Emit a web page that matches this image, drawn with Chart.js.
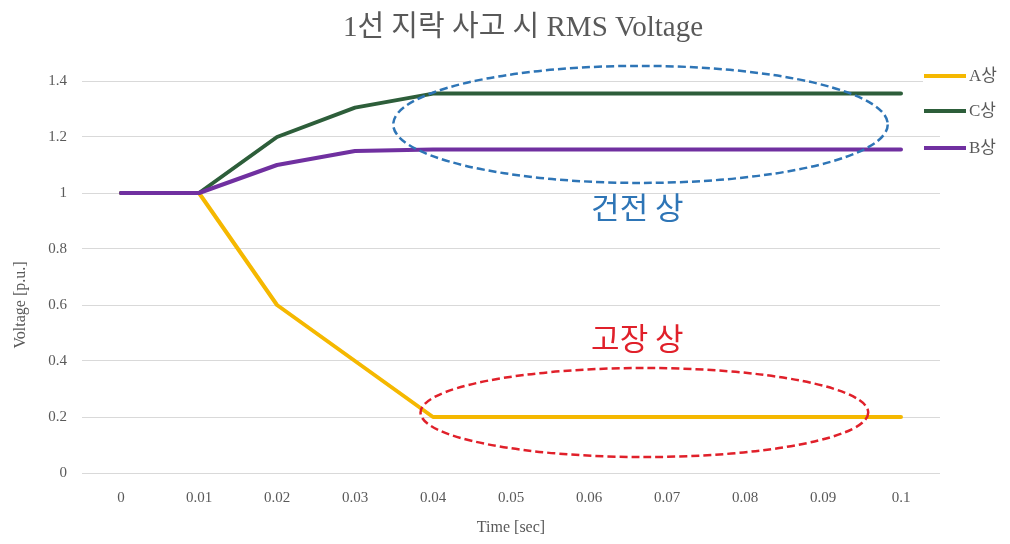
<!DOCTYPE html>
<html>
<head>
<meta charset="utf-8">
<script src="https://cdn.jsdelivr.net/npm/chart.js@4.4.1/dist/chart.umd.min.js"></script>
<style>
  html, body { margin: 0; padding: 0; background: #ffffff; }
  #wrap { width: 1010px; height: 544px; }
</style>
</head>
<body>
<div id="wrap"><canvas id="c" width="1010" height="544"></canvas></div>
<script>
// Time axis categories (sec)
const timeLabels = ['0', '0.01', '0.02', '0.03', '0.04', '0.05', '0.06', '0.07', '0.08', '0.09', '0.1'];

// RMS voltage per phase [p.u.]
const phaseA = [1, 1, 0.6, 0.4, 0.2, 0.2, 0.2, 0.2, 0.2, 0.2, 0.2];
const phaseC = [1, 1, 1.2, 1.305, 1.355, 1.355, 1.355, 1.355, 1.355, 1.355, 1.355];
const phaseB = [1, 1, 1.1, 1.15, 1.155, 1.155, 1.155, 1.155, 1.155, 1.155, 1.155];

// Value axis ticks
const yTicks = [0, 0.2, 0.4, 0.6, 0.8, 1, 1.2, 1.4];

const GREY = '#595959';
const SERIF = '"Liberation Serif", "Times New Roman", "Noto Sans CJK KR", serif';
const SANS = '"Noto Sans CJK KR", "Noto Sans", sans-serif';
const TITLE = '1선 지락 사고 시 RMS Voltage';

// Highlight ellipses, given in data units (category index, p.u.)
const highlights = [
  { cx: 6.66, cy: 1.245, rx: 3.17, ry: 0.209, color: '#2E75B6', text: '건전 상', textX: 6.62, textY: 0.95 },
  { cx: 6.71, cy: 0.216, rx: 2.87, ry: 0.159, color: '#E0202A', text: '고장 상', textX: 6.62, textY: 0.48 }
];

const highlightPlugin = {
  id: 'highlightPlugin',
  afterDatasetsDraw(chart) {
    const ctx = chart.ctx;
    const xs = chart.scales.x, ys = chart.scales.y;
    const catW = xs.getPixelForValue(1) - xs.getPixelForValue(0);
    const unitH = ys.getPixelForValue(0) - ys.getPixelForValue(1);
    highlights.forEach(h => {
      const px = xs.getPixelForValue(0) + h.cx * catW;
      const py = ys.getPixelForValue(h.cy);
      ctx.save();
      ctx.beginPath();
      ctx.setLineDash([8, 4]);
      ctx.lineWidth = 2.5;
      ctx.strokeStyle = h.color;
      ctx.ellipse(px, py, h.rx * catW, h.ry * unitH, 0, 0, Math.PI * 2);
      ctx.stroke();
      ctx.setLineDash([]);
      ctx.fillStyle = h.color;
      ctx.font = '31px ' + SANS;
      ctx.textAlign = 'center';
      ctx.textBaseline = 'middle';
      ctx.fillText(h.text, xs.getPixelForValue(0) + h.textX * catW, ys.getPixelForValue(h.textY));
      ctx.restore();
    });
  }
};

// Legend drawn on the right, overlapping the plot edge (A, C, B order)
const sideLegend = {
  id: 'sideLegend',
  afterDraw(chart) {
    const ctx = chart.ctx;
    const order = [0, 1, 2];
    const rows = [76, 111, 148];
    ctx.save();
    order.forEach((di, i) => {
      const ds = chart.data.datasets[di];
      const y = rows[i];
      ctx.fillStyle = '#ffffff';
      ctx.fillRect(923, y - 8, 87, 16);
      ctx.strokeStyle = ds.borderColor;
      ctx.lineWidth = 4;
      ctx.beginPath();
      ctx.moveTo(924, y);
      ctx.lineTo(966, y);
      ctx.stroke();
      ctx.fillStyle = GREY;
      ctx.font = '17px ' + SERIF;
      ctx.textAlign = 'left';
      ctx.textBaseline = 'middle';
      ctx.fillText(ds.label, 969, y + 1);
    });
    ctx.restore();
  }
};

// Chart title and vertical axis title
const titles = {
  id: 'titles',
  afterDraw(chart) {
    const ctx = chart.ctx;
    ctx.save();
    ctx.fillStyle = GREY;
    ctx.font = '29px ' + SERIF;
    ctx.textAlign = 'center';
    ctx.textBaseline = 'middle';
    ctx.fillText(TITLE, 523, 28);
    ctx.translate(21, 305);
    ctx.rotate(-Math.PI / 2);
    ctx.font = '16px ' + SERIF;
    ctx.fillText('Voltage [p.u.]', 0, 0);
    ctx.restore();
  }
};

new Chart(document.getElementById('c'), {
  type: 'line',
  data: {
    labels: timeLabels,
    datasets: [
      { label: 'A상', data: phaseA, borderColor: '#F5B800', backgroundColor: '#F5B800', order: 2 },
      { label: 'C상', data: phaseC, borderColor: '#2D5E3A', backgroundColor: '#2D5E3A', order: 1 },
      { label: 'B상', data: phaseB, borderColor: '#7030A0', backgroundColor: '#7030A0', order: 0 }
    ]
  },
  options: {
    responsive: false,
    animation: false,
    devicePixelRatio: 1,
    layout: { padding: { left: 0, right: 70, top: 81, bottom: 0 } },
    elements: {
      line: { borderWidth: 4, tension: 0, borderCapStyle: 'round', borderJoinStyle: 'round' },
      point: { radius: 0, hoverRadius: 0 }
    },
    plugins: {
      legend: { display: false },
      tooltip: { enabled: false },
      title: { display: false }
    },
    scales: {
      x: {
        type: 'category',
        offset: true,
        grid: { display: false, drawTicks: false },
        border: { display: false },
        ticks: { color: GREY, font: { family: SERIF, size: 15 }, padding: 16, maxRotation: 0, autoSkip: false },
        title: { display: true, text: 'Time [sec]', color: GREY, font: { family: SERIF, size: 16 }, padding: { top: 4, bottom: 7 } },
        afterFit(scale) { scale.height = 71; }
      },
      y: {
        min: 0,
        max: 1.4,
        afterBuildTicks(scale) { scale.ticks = yTicks.map(v => ({ value: v })); },
        grid: { color: '#D9D9D9', lineWidth: 1, drawTicks: false },
        border: { display: false },
        ticks: { color: GREY, font: { family: SERIF, size: 15 }, padding: 15, callback: v => String(Math.round(v * 10) / 10) },
        afterFit(scale) { scale.width = 82; }
      }
    }
  },
  plugins: [highlightPlugin, sideLegend, titles]
});
</script>
</body>
</html>
